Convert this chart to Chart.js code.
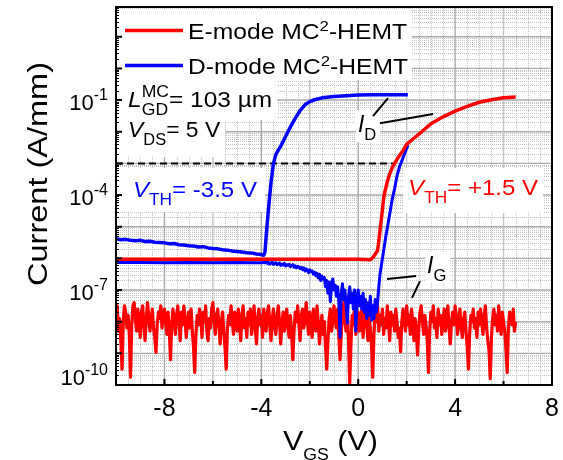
<!DOCTYPE html>
<html>
<head>
<meta charset="utf-8">
<script src="https://cdn.jsdelivr.net/npm/chart.js@4/dist/chart.umd.min.js"></script>
<style>
  html, body { margin: 0; padding: 0; background: #fff; }
  canvas { display: block; }
</style>
</head>
<body>
<canvas id="chart" width="563" height="460"></canvas>
<script>
// ---------------- axis settings ----------------
const X_MIN = -10, X_MAX = 8;
const Y_MIN = 1e-10, Y_MAX = 87;
const X_TICK_LABELS = [-8, -4, 0, 4, 8];
const X_MINOR_TICKS = [-6, -2, 2, 6];
const Y_TICK_EXPONENTS = [-10, -7, -4, -1];

// threshold criterion and threshold voltages
const I_CRIT = 1e-3;          // A/mm
const VTH_E = 1.5;            // V
const VTH_D = -3.5;           // V
const VDS = 5;                // V
const LGD = 103;              // µm

// ---------------- E-mode MC2-HEMT, drain current (log10 A/mm) ----------------
const E_ID_V = [-10, -9, -8, -7, -6, -5, -4, -3, -2, -1, 0, 0.5,
  0.6, 0.7, 0.8, 0.85, 0.9, 0.95, 1.0, 1.05, 1.1,
  1.2, 1.3, 1.4, 1.5, 1.6,
  1.8, 2.0, 2.2, 2.5,
  3.0, 3.5, 4.0, 4.5, 5.0, 5.5, 6.0, 6.5];
const E_ID_LOG = [-6.03, -6.03, -6.03, -6.03, -6.03, -6.03, -6.03, -6.03, -6.03, -6.03, -6.03, -6.04,
  -5.98, -5.87, -5.75, -5.45, -5.1, -4.8, -4.45, -4.1, -3.9,
  -3.58, -3.33, -3.14, -3.0, -2.87,
  -2.65, -2.4, -2.27, -2.08,
  -1.75, -1.53, -1.35, -1.2, -1.07, -0.99, -0.93, -0.9];

// ---------------- E-mode MC2-HEMT, gate current (log10 A/mm), 0.05 V sweep from -10 V ----------------
const E_IG_START = -10, E_IG_STEP = 0.05;
const E_IG_LOG = [
  -7.6,-7.5,-8.3,-7.9,-8.6,-9.5,-8.0,-7.5,-7.7,-8.2,
  -7.8,-8.4,-9.75,-8.1,-7.5,-7.4,-7.9,-8.3,-7.6,-8.0,
  -8.5,-7.7,-7.5,-8.1,-8.6,-7.9,-7.4,-7.8,-8.3,-8.0,
  -7.6,-8.2,-8.5,-8.97,-8.1,-7.7,-7.9,-7.5,-8.2,-7.8,
  -7.6,-8.0,-8.4,-7.7,-8.3,-9.2,-8.1,-7.6,-7.9,-8.4,
  -7.8,-7.5,-8.0,-8.6,-7.7,-8.1,-7.5,-7.9,-8.5,-8.0,
  -7.7,-8.2,-7.6,-8.3,-8.8,-9.6,-8.4,-7.8,-8.1,-7.6,
  -7.9,-8.5,-7.7,-8.0,-7.5,-8.3,-8.6,-7.9,-8.2,-7.6,
  -7.4,-8.0,-8.4,-7.8,-7.6,-8.1,-8.7,-8.0,-7.7,-8.3,
  -8.8,-9.5,-8.2,-7.8,-8.1,-7.5,-8.0,-8.4,-7.7,-7.9,
  -8.3,-7.6,-8.0,-8.6,-7.8,-7.5,-8.2,-7.9,-8.5,-7.7,
  -8.1,-7.6,-8.4,-8.0,-7.5,-8.2,-8.7,-7.9,-7.6,-8.1,
  -7.8,-8.5,-7.6,-8.0,-8.3,-7.7,-7.5,-8.1,-8.6,-7.9,
  -7.6,-8.2,-8.4,-7.8,-7.5,-8.0,-8.7,-8.1,-7.7,-8.3,
  -7.9,-7.6,-8.2,-8.5,-7.8,-8.4,-9.2,-8.3,-7.7,-8.0,
  -7.5,-8.1,-8.6,-7.8,-7.6,-8.2,-8.0,-7.4,-7.9,-8.4,
  -7.7,-8.1,-8.5,-7.6,-7.9,-8.3,-7.5,-8.0,-8.7,-8.2,
  -7.8,-8.4,-8.0,-8.8,-9.5,-8.6,-7.9,-7.6,-8.3,-8.0,
  -7.5,-7.9,-8.2,-7.6,-8.5,-9.2,-8.4,-7.7,-7.4,-8.0,
  -8.3,-7.6,-8.6,-9.95,-8.7,-7.8,-8.1,-7.5,-8.4,-8.0,
  -7.7,-8.3,-8.0,-7.6,-8.5,-7.9,-7.4,-8.1,-8.6,-7.8,
  -8.2,-8.8,-9.75,-8.4,-7.7,-8.0,-7.5,-8.3,-7.8,-8.1,
  -7.6,-8.4,-7.9,-8.2,-7.5,-8.0,-8.6,-7.7,-8.1,-7.8,
  -8.3,-7.6,-8.0,-8.5,-8.2,-8.95,-8.0,-7.6,-7.9,-8.3,
  -7.5,-8.1,-7.8,-8.4,-7.6,-8.0,-8.6,-7.9,-8.3,-9.05,
  -8.2,-7.7,-7.5,-8.0,-8.4,-7.8,-8.1,-8.6,-9.6,-8.3,
  -7.7,-8.0,-7.5,-8.2,-7.9,-8.5,-7.6,-8.1,-7.8,-8.4,
  -8.0,-7.6,-8.3,-7.9,-7.5,-8.2,-8.7,-8.0,-7.7,-8.1,
  -7.5,-7.8,-8.4,-8.0,-7.6,-8.2,-8.5,-7.9,-7.7,-8.3,
  -8.8,-9.5,-8.4,-7.8,-8.0,-7.6,-8.2,-7.9,-8.5,-7.7,
  -8.1,-7.6,-8.0,-8.4,-7.8,-7.5,-8.2,-8.6,-8.9,-9.8,
  -8.5,-7.9,-7.6,-8.1,-7.8,-8.3,-7.5,-8.0,-8.4,-7.7,
  -8.0,-8.3,-8.9,-9.6,-8.2,-7.7,-7.9,-8.1,-7.6,-8.3,
  -8.0
];

// ---------------- D-mode MC2-HEMT, drain current (log10 A/mm) ----------------
const D_ID_V = [-10, -9.8, -9.6, -9.4, -9.2, -9.0, -8.8, -8.6, -8.4, -8.2,
  -8.0, -7.8, -7.6, -7.4, -7.2, -7.0, -6.8, -6.6, -6.4, -6.2,
  -6.0, -5.8, -5.6, -5.4, -5.2, -5.0, -4.8, -4.6, -4.4, -4.2,
  -4.0, -3.9,
  -3.85, -3.8, -3.75, -3.7, -3.65, -3.6, -3.55, -3.5,
  -3.4, -3.3, -3.2, -3.0, -2.8, -2.6, -2.4, -2.2, -2.0, -1.8, -1.5, -1.0, -0.5, 0,
  0.5, 1.0, 1.5, 2.05];
const D_ID_LOG = [-5.38, -5.41, -5.40, -5.43, -5.44, -5.43, -5.47, -5.46, -5.49, -5.50,
  -5.51, -5.54, -5.53, -5.57, -5.58, -5.60, -5.61, -5.64, -5.63, -5.67,
  -5.69, -5.70, -5.73, -5.74, -5.77, -5.78, -5.80, -5.82, -5.83, -5.86,
  -5.88, -5.9,
  -5.8, -5.3, -4.85, -4.4, -4.0, -3.6, -3.3, -3.0,
  -2.72, -2.58, -2.46, -2.15, -1.85, -1.58, -1.33, -1.15, -1.05, -0.99, -0.93, -0.89, -0.86, -0.84,
  -0.835, -0.83, -0.83, -0.83];

// ---------------- D-mode MC2-HEMT, gate current (log10 A/mm) ----------------
const D_IG_FLAT_V = [-10, -9, -8, -7, -6, -5, -4.5, -4.0, -3.95];
const D_IG_FLAT_LOG = [-6.13, -6.13, -6.14, -6.13, -6.14, -6.13, -6.14, -6.14, -6.14];
const D_IG_NOISE_START = -3.9, D_IG_NOISE_STEP = 0.05;
const D_IG_NOISE_LOG = [
  -6.12,-6.14,-6.11,-6.16,-6.13,-6.18,-6.15,-6.12,-6.19,-6.16,
  -6.14,-6.2,-6.17,-6.15,-6.22,-6.18,-6.21,-6.16,-6.24,-6.2,
  -6.22,-6.19,-6.26,-6.23,-6.2,-6.28,-6.24,-6.3,-6.25,-6.27,
  -6.32,-6.28,-6.35,-6.3,-6.4,-6.33,-6.38,-6.45,-6.36,-6.42,
  -6.4,-6.5,-6.44,-6.55,-6.47,-6.62,-6.5,-6.7,-6.56,-6.65,
  -6.6,-6.9,-6.7,-7.1,-6.75,-7.37,-6.8,-6.65,-7.0,-6.85,
  -7.2,-6.9,-7.4,-8.5,-7.1,-6.8,-7.3,-7.0,-7.5,-8.05,
  -7.2,-6.9,-7.4,-7.1,-7.6,-7.0,-8.3,-7.3,-7.0,-7.5,
  -7.2,-7.6,-7.1,-7.7,-7.3,-7.9,-7.4,-7.8,-7.2,-7.95,
  -7.5,-7.9,-7.3,-7.7
];
const D_IG_RISE_V = [0.8, 0.85, 0.9, 0.95, 1.0, 1.05, 1.1, 1.15, 1.2, 1.3, 1.4, 1.5, 1.6, 1.7, 1.8, 1.9, 2.0, 2.06];
const D_IG_RISE_LOG = [-7.4, -6.9, -6.5, -6.25, -6.0, -5.75, -5.5, -5.25, -5.05, -4.6, -4.15, -3.8, -3.4, -3.12, -2.92, -2.72, -2.52, -2.42];

// ---------------- point builders ----------------
const toPts = (vs, logs) => vs.map((v, i) => ({ x: v, y: Math.pow(10, logs[i]) }));
const sweepPts = (start, step, logs) => logs.map((l, i) => ({ x: +(start + i * step).toFixed(3), y: Math.pow(10, l) }));

const eId = toPts(E_ID_V, E_ID_LOG);
const eIg = sweepPts(E_IG_START, E_IG_STEP, E_IG_LOG);
const dId = toPts(D_ID_V, D_ID_LOG);
const dIg = toPts(D_IG_FLAT_V, D_IG_FLAT_LOG)
  .concat(sweepPts(D_IG_NOISE_START, D_IG_NOISE_STEP, D_IG_NOISE_LOG))
  .concat(toPts(D_IG_RISE_V, D_IG_RISE_LOG));
const critLine = [{ x: X_MIN, y: I_CRIT }, { x: VTH_E, y: I_CRIT }];

// ---------------- drawing helpers ----------------
const FONT = '"Liberation Sans", Arial, Helvetica, sans-serif';
const RED = '#ff0000', BLUE = '#0000ff';

function setFont(ctx, size, italic) {
  ctx.font = (italic ? 'italic ' : '') + size + 'px ' + FONT;
}
// runs: [text, kind] with kind '', 'i', 'sub', 'sup' or 'ss' (stacked sup/sub pair)
function pieceWidth(ctx, run, S, o) {
  const [t, k] = run;
  if (k === 'ss') {
    setFont(ctx, S * o.small, false);
    return Math.max(ctx.measureText(t[0]).width, ctx.measureText(t[1]).width);
  }
  setFont(ctx, (k === 'sub' || k === 'sup') ? S * o.small : S, k === 'i');
  return ctx.measureText(t).width;
}
function drawRuns(ctx, runs, x, y, S, color, targetW, opts) {
  const o = Object.assign({ small: 0.72, subOff: 0.36, supOff: -0.36, ssSup: -0.45, ssSub: 0.36 }, opts || {});
  ctx.save();
  let w = 0;
  for (const r of runs) w += pieceWidth(ctx, r, S, o);
  const sx = targetW ? targetW / w : 1;
  ctx.translate(x, y);
  ctx.scale(sx, 1);
  ctx.fillStyle = color;
  ctx.textAlign = 'left';
  ctx.textBaseline = 'alphabetic';
  let cx = 0;
  for (const r of runs) {
    const [t, k] = r;
    const pw = pieceWidth(ctx, r, S, o);
    if (k === 'ss') {
      ctx.fillText(t[0], cx, o.ssSup * S);
      ctx.fillText(t[1], cx, o.ssSub * S);
    } else if (k === 'sub') ctx.fillText(t, cx, o.subOff * S);
    else if (k === 'sup') ctx.fillText(t, cx, o.supOff * S);
    else ctx.fillText(t, cx, 0);
    cx += pw;
  }
  ctx.restore();
  return w * sx;
}

// annotations placed in data units (VGS in V, log10 of current)
const ANNOTATIONS = [
  { runs: [['L', 'i'], [['MC', 'GD'], 'ss'], ['= ' + LGD + ' µm', '']], v: -9.5, lg: -1.22, w: 144, color: '#000', box: [10, 27, 5, 13] },
  { runs: [['V', 'i'], ['DS', 'sub'], ['= ' + VDS + ' V', '']], v: -9.5, lg: -2.17, w: 92, color: '#000', box: [10, 17, 5, 20] },
  { runs: [['V', 'i'], ['TH', 'sub'], ['= ' + VTH_D.toFixed(1) + ' V', '']], v: -9.3, lg: -4.06, w: 124, color: BLUE, box: [13, 29, 8, 15] },
  { runs: [['V', 'i'], ['TH', 'sub'], ['= +' + VTH_E.toFixed(1) + ' V', '']], v: 2.06, lg: -4.0, w: 130, color: RED, box: [5, 27, 5, 18] },
  { runs: [['I', 'i'], ['D', 'sub']], v: -0.01, lg: -2.01, size: 23, color: '#000', box: [2, 22, 4, 10] },
  { runs: [['I', 'i'], ['G', 'sub']], v: 2.84, lg: -6.46, size: 23, color: '#000', box: [2, 21, 4, 10] }
];
// leader lines from the current labels to their curves [v1, lg1, v2, lg2]
const LEADERS = [
  [0.90, -1.73, 3.09, -1.44],
  [0.61, -1.51, 1.23, -0.94],
  [1.19, -6.65, 2.39, -6.56],
  [2.22, -7.25, 2.55, -6.72]
];
const LEGEND = [
  { label: [['E-mode MC', ''], ['2', 'sup'], ['-HEMT', '']], color: RED },
  { label: [['D-mode MC', ''], ['2', 'sup'], ['-HEMT', '']], color: BLUE }
];

function px(chart, v) { return chart.scales.x.getPixelForValue(v); }
function py(chart, lg) { return chart.scales.y.getPixelForValue(Math.pow(10, lg)); }

const paperPlugin = {
  id: 'paper',
  beforeDraw(chart) {
    const c = chart.ctx;
    c.save();
    c.fillStyle = '#fff';
    c.fillRect(0, 0, chart.width, chart.height);
    c.restore();
  }
};

const gridPlugin = {
  id: 'gridAndBoxes',
  beforeDatasetsDraw(chart) {
    const c = chart.ctx, a = chart.chartArea;
    const xs = chart.scales.x, ys = chart.scales.y;
    c.save();
    c.beginPath();
    c.rect(a.left, a.top, a.right - a.left, a.bottom - a.top);
    c.clip();
    // minor dotted grid
    c.strokeStyle = '#c4c4c4';
    c.lineWidth = 1;
    c.setLineDash([1, 1]);
    c.beginPath();
    for (let d = -10; d <= 1; d++) {
      for (let m = 2; m <= 9; m++) {
        const y = Math.round(ys.getPixelForValue(m * Math.pow(10, d))) + 0.5;
        if (y > a.top && y < a.bottom) { c.moveTo(a.left, y); c.lineTo(a.right, y); }
      }
    }
    for (let k = 0; k <= 36; k++) {
      const v = X_MIN + k * 0.5;
      if (Math.abs(v % 2) < 1e-9) continue;
      const x = Math.round(xs.getPixelForValue(v)) + 0.5;
      c.moveTo(x, a.top); c.lineTo(x, a.bottom);
    }
    c.stroke();
    // major grid
    c.setLineDash([]);
    c.lineWidth = 1.4;
    c.strokeStyle = '#aaaaaa';
    c.beginPath();
    for (let d = -9; d <= 1; d++) {
      const y = ys.getPixelForValue(Math.pow(10, d));
      c.moveTo(a.left, y); c.lineTo(a.right, y);
    }
    for (const v of X_TICK_LABELS) {
      const x = xs.getPixelForValue(v);
      c.moveTo(x, a.top); c.lineTo(x, a.bottom);
    }
    c.stroke();
    c.strokeStyle = '#c4c4c4';
    c.beginPath();
    for (const v of X_MINOR_TICKS) {
      const x = xs.getPixelForValue(v);
      c.moveTo(x, a.top); c.lineTo(x, a.bottom);
    }
    c.stroke();
    c.restore();

    // white panels behind the legend and the annotation texts
    c.save();
    c.fillStyle = '#fff';
    c.fillRect(a.left + 2, a.top + 2, 412 - a.left - 2, 80 - a.top - 2);
    for (const an of ANNOTATIONS) {
      const S = an.size || 22;
      let w = an.w;
      if (!w) {
        const o = { small: 0.72 };
        w = 0; for (const r of an.runs) w += pieceWidth(c, r, S, o);
      }
      const x = px(chart, an.v), y = py(chart, an.lg);
      const [l, t, r, b] = an.box;
      c.fillRect(x - l, y - t, w + l + r, t + b);
    }
    c.restore();
  }
};

const overlayPlugin = {
  id: 'axesAndText',
  afterDatasetsDraw(chart) {
    const c = chart.ctx, a = chart.chartArea;
    const xs = chart.scales.x, ys = chart.scales.y;
    c.save();
    // frame
    c.strokeStyle = '#000';
    c.lineWidth = 2;
    c.strokeRect(a.left, a.top, a.right - a.left, a.bottom - a.top);
    // inward ticks
    c.beginPath();
    c.lineWidth = 2;
    for (let d = -10; d <= 1; d++) {
      const y = ys.getPixelForValue(Math.pow(10, d));
      c.moveTo(a.left, y); c.lineTo(a.left + 6, y);
    }
    for (const v of X_TICK_LABELS) {
      const x = xs.getPixelForValue(v);
      c.moveTo(x, a.bottom); c.lineTo(x, a.bottom - 6);
    }
    for (const v of X_MINOR_TICKS) {
      const x = xs.getPixelForValue(v);
      c.moveTo(x, a.bottom); c.lineTo(x, a.bottom - 4);
    }
    c.stroke();
    c.beginPath();
    c.lineWidth = 1;
    for (let d = -10; d <= 1; d++) {
      for (let m = 2; m <= 9; m++) {
        const y = Math.round(ys.getPixelForValue(m * Math.pow(10, d))) + 0.5;
        if (y > a.top && y < a.bottom) { c.moveTo(a.left, y); c.lineTo(a.left + 3, y); }
      }
    }
    c.stroke();

    // y tick labels 10^n
    c.fillStyle = '#000';
    c.textBaseline = 'alphabetic';
    for (const e of Y_TICK_EXPONENTS) {
      const ty = ys.getPixelForValue(Math.pow(10, e));
      const base = e === -10 ? ty : ty + 10;
      setFont(c, 16, false);
      const ew = c.measureText(String(e)).width;
      setFont(c, 22, false);
      const bw = c.measureText('10').width;
      const right = a.left - 8;
      c.textAlign = 'left';
      c.fillText('10', right - ew - bw, base);
      setFont(c, 16, false);
      c.fillText(String(e), right - ew, base - 10);
    }
    // x tick labels
    setFont(c, 25, false);
    c.textAlign = 'center';
    for (const v of X_TICK_LABELS) {
      c.fillText(String(v), xs.getPixelForValue(v), a.bottom + 31);
    }
    // axis titles
    drawRuns(c, [['V', ''], ['GS', 'sub'], [' (V)', '']], 283, a.bottom + 65, 28, '#000', 95,
      { small: 0.58, subOff: 0.36 });
    c.save();
    c.translate(47, (a.top + a.bottom) / 2 - 22);
    c.rotate(-Math.PI / 2);
    setFont(c, 27, false);
    const tw = c.measureText('Current (A/mm)').width;
    c.scale(224 / tw, 1);
    c.textAlign = 'left';
    c.fillText('Current (A/mm)', -tw / 2, 0);
    c.restore();

    // legend
    LEGEND.forEach((item, i) => {
      const ly = a.top + 23.5 + i * 35;
      c.strokeStyle = item.color;
      c.lineWidth = 3.5;
      c.setLineDash([]);
      c.beginPath();
      c.moveTo(a.left + 9, ly); c.lineTo(a.left + 67, ly);
      c.stroke();
      drawRuns(c, item.label, a.left + 72, ly + 8, 22, '#000', 219 + i, { small: 0.68, supOff: -0.36 });
    });

    // annotations
    for (const an of ANNOTATIONS) {
      drawRuns(c, an.runs, px(chart, an.v), py(chart, an.lg), an.size || 22, an.color, an.w || 0);
    }
    c.strokeStyle = '#000';
    c.lineWidth = 2;
    c.beginPath();
    for (const [v1, l1, v2, l2] of LEADERS) {
      c.moveTo(px(chart, v1), py(chart, l1));
      c.lineTo(px(chart, v2), py(chart, l2));
    }
    c.stroke();
    c.restore();
  }
};

new Chart(document.getElementById('chart'), {
  type: 'line',
  data: {
    datasets: [
      { label: 'E-mode I_D', data: eId, borderColor: RED, borderWidth: 3.5, order: 0 },
      { label: 'D-mode I_D', data: dId, borderColor: BLUE, borderWidth: 3.5, order: 1 },
      { label: 'D-mode I_G', data: dIg, borderColor: BLUE, borderWidth: 3, order: 2 },
      { label: 'E-mode I_G', data: eIg, borderColor: RED, borderWidth: 3.2, order: 3 },
      { label: 'criterion', data: critLine, borderColor: '#000', borderWidth: 2, borderDash: [7, 4], order: 4 }
    ]
  },
  options: {
    responsive: false,
    animation: false,
    devicePixelRatio: 1,
    layout: { padding: { left: 116, right: 11, top: 7, bottom: 75 } },
    elements: {
      point: { radius: 0, hoverRadius: 0 },
      line: { tension: 0, fill: false, borderJoinStyle: 'round', borderCapStyle: 'butt' }
    },
    plugins: { legend: { display: false }, tooltip: { enabled: false } },
    events: [],
    scales: {
      x: { type: 'linear', min: X_MIN, max: X_MAX, display: false },
      y: { type: 'logarithmic', min: Y_MIN, max: Y_MAX, display: false }
    }
  },
  plugins: [paperPlugin, gridPlugin, overlayPlugin]
});
</script>
</body>
</html>
